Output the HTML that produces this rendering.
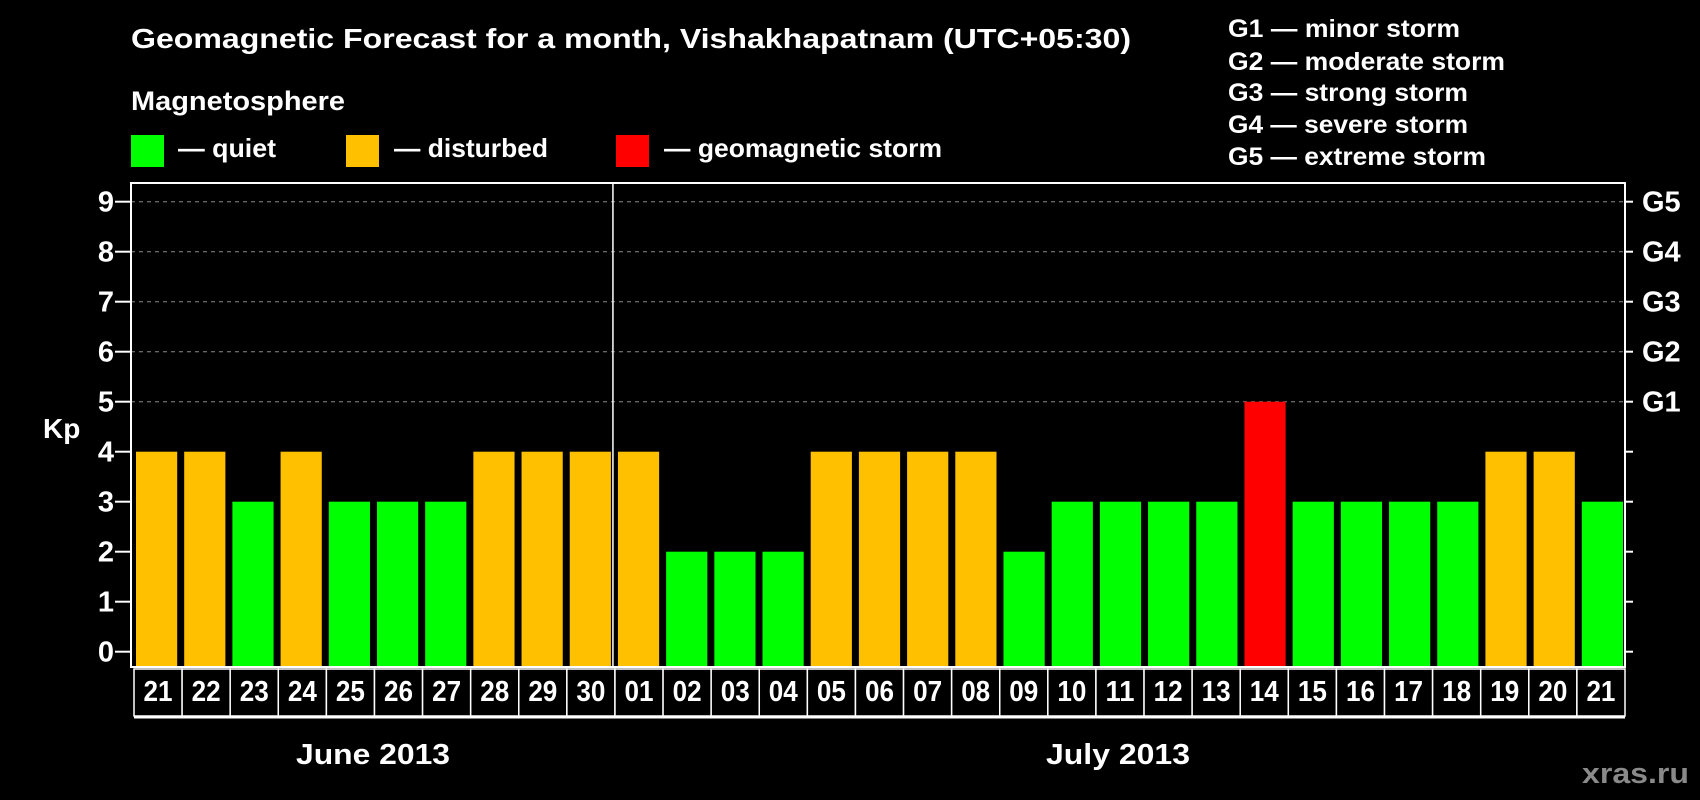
<!DOCTYPE html>
<html><head><meta charset="utf-8"><style>
html,body{margin:0;padding:0;background:#000;}
svg{display:block;font-family:"Liberation Sans",Arial,sans-serif;font-weight:bold;}
</style></head><body>
<svg id="chart" width="1700" height="800" viewBox="0 0 1700 800" xmlns="http://www.w3.org/2000/svg">
<rect x="0" y="0" width="1700" height="800" fill="#000"/>
<text x="131" y="48" fill="#fff" font-size="28" textLength="1000" lengthAdjust="spacingAndGlyphs">Geomagnetic Forecast for a month, Vishakhapatnam (UTC+05:30)</text>
<text x="131" y="110" fill="#fff" font-size="27" textLength="214" lengthAdjust="spacingAndGlyphs">Magnetosphere</text>
<g>
<rect x="131" y="135" width="33" height="32" fill="#00ff00"/>
<text x="178" y="157" fill="#fff" font-size="26" textLength="98" lengthAdjust="spacingAndGlyphs">— quiet</text></g>
<g>
<rect x="346" y="135" width="33" height="32" fill="#ffc000"/>
<text x="394" y="157" fill="#fff" font-size="26" textLength="154" lengthAdjust="spacingAndGlyphs">— disturbed</text></g>
<g>
<rect x="616" y="135" width="33" height="32" fill="#ff0000"/>
<text x="664" y="157" fill="#fff" font-size="26" textLength="278" lengthAdjust="spacingAndGlyphs">— geomagnetic storm</text></g>
<g fill="#fff" font-size="25">
<text x="1228" y="37" textLength="232" lengthAdjust="spacingAndGlyphs">G1 — minor storm</text>
<text x="1228" y="70" textLength="277" lengthAdjust="spacingAndGlyphs">G2 — moderate storm</text>
<text x="1228" y="101" textLength="240" lengthAdjust="spacingAndGlyphs">G3 — strong storm</text>
<text x="1228" y="133" textLength="240" lengthAdjust="spacingAndGlyphs">G4 — severe storm</text>
<text x="1228" y="165" textLength="258" lengthAdjust="spacingAndGlyphs">G5 — extreme storm</text>
</g>
<text x="43" y="438" fill="#fff" font-size="28">Kp</text>
<g id="grid"></g><g id="bars"></g><g id="axes"></g>
<text x="373" y="764" fill="#fff" font-size="29" text-anchor="middle" textLength="154" lengthAdjust="spacingAndGlyphs">June 2013</text>
<text x="1118" y="764" fill="#fff" font-size="29" text-anchor="middle" textLength="144" lengthAdjust="spacingAndGlyphs">July 2013</text>
<text x="1689" y="783" fill="#8a8a8a" font-size="29" text-anchor="end" textLength="107" lengthAdjust="spacingAndGlyphs">xras.ru</text>
</svg>
<script>
const days = ["21","22","23","24","25","26","27","28","29","30","01","02","03","04","05","06","07","08","09","10","11","12","13","14","15","16","17","18","19","20","21"];
const kpValues = [4,4,3,4,3,3,3,4,4,4,4,2,2,2,4,4,4,4,2,3,3,3,3,5,3,3,3,3,4,4,3];
const yTicks = [0,1,2,3,4,5,6,7,8,9];
const gLabels = ["G1","G2","G3","G4","G5"];
const gLevels = [5,6,7,8,9];
const monthBreakIndex = 10;

const NS = "http://www.w3.org/2000/svg";
const L = 131, R = 1625, T = 183, B = 667;
const y0 = 651.7, unit = 50;
const n = days.length, step = (R - L) / n;
const cellStep = (R - L - 3) / n;
const yScale = v => y0 - v * unit;
const xScale = i => L + i * step;
function mk(tag, attrs, parent) { const e = document.createElementNS(NS, tag); for (const k in attrs) e.setAttribute(k, attrs[k]); parent.appendChild(e); return e; }
const grid = document.getElementById('grid'), bars = document.getElementById('bars'), axes = document.getElementById('axes');
function colorFor(v) { return v >= 5 ? "#ff0000" : (v >= 4 ? "#ffc000" : "#00ff00"); }

yTicks.forEach(v => {
  const y = yScale(v);
  if (v >= 5) {
    const gl = mk('line', {x1: L, x2: R, y1: y, y2: y, stroke: "#888", "stroke-dasharray": "4 4", "stroke-width": 1}, grid);
    
    
  }
  const t = mk('line', {x1: L - 16, x2: L, y1: y, y2: y, stroke: "#fff", "stroke-width": 2}, axes);
  
  
  const t2 = mk('line', {x1: R, x2: R + 8, y1: y, y2: y, stroke: "#fff", "stroke-width": 2}, axes);
  
  
  const lb = mk('text', {x: 114, y: y + 10, fill: "#fff", "font-size": 29, "text-anchor": "end"}, axes);
  lb.textContent = v;
  
  
});
gLabels.forEach((g, i) => {
  const lb = mk('text', {x: 1642, y: yScale(gLevels[i]) + 10, fill: "#fff", "font-size": 29}, axes);
  lb.textContent = g;
  
  
});
kpValues.forEach((v, i) => {
  const x = xScale(i) + 5;
  const b = mk('rect', {x: x, y: yScale(v), width: step - 7, height: B - yScale(v), fill: colorFor(v)}, bars);
  
  
});
const fr = mk('rect', {x: L, y: T, width: R - L, height: B - T, fill: "none", stroke: "#fff", "stroke-width": 2}, axes);


const mb = mk('line', {x1: xScale(monthBreakIndex), x2: xScale(monthBreakIndex), y1: T, y2: B, stroke: "#fff", "stroke-width": 1.5}, axes);


days.forEach((d, i) => {
  const cx = L + 3 + i * cellStep;
  const c = mk('rect', {x: cx, y: 669, width: cellStep, height: 47, fill: "#000", stroke: "#fff", "stroke-width": 1.5}, axes);
  
  
  const t = mk('text', {x: cx + cellStep / 2, y: 701, fill: "#fff", "font-size": 29, "text-anchor": "middle", textLength: 29, lengthAdjust: "spacingAndGlyphs"}, axes);
  t.textContent = d;
  
  
});
const bl = mk('line', {x1: L + 3, x2: R, y1: 717, y2: 717, stroke: "#fff", "stroke-width": 3}, axes);


</script>
</body></html>
